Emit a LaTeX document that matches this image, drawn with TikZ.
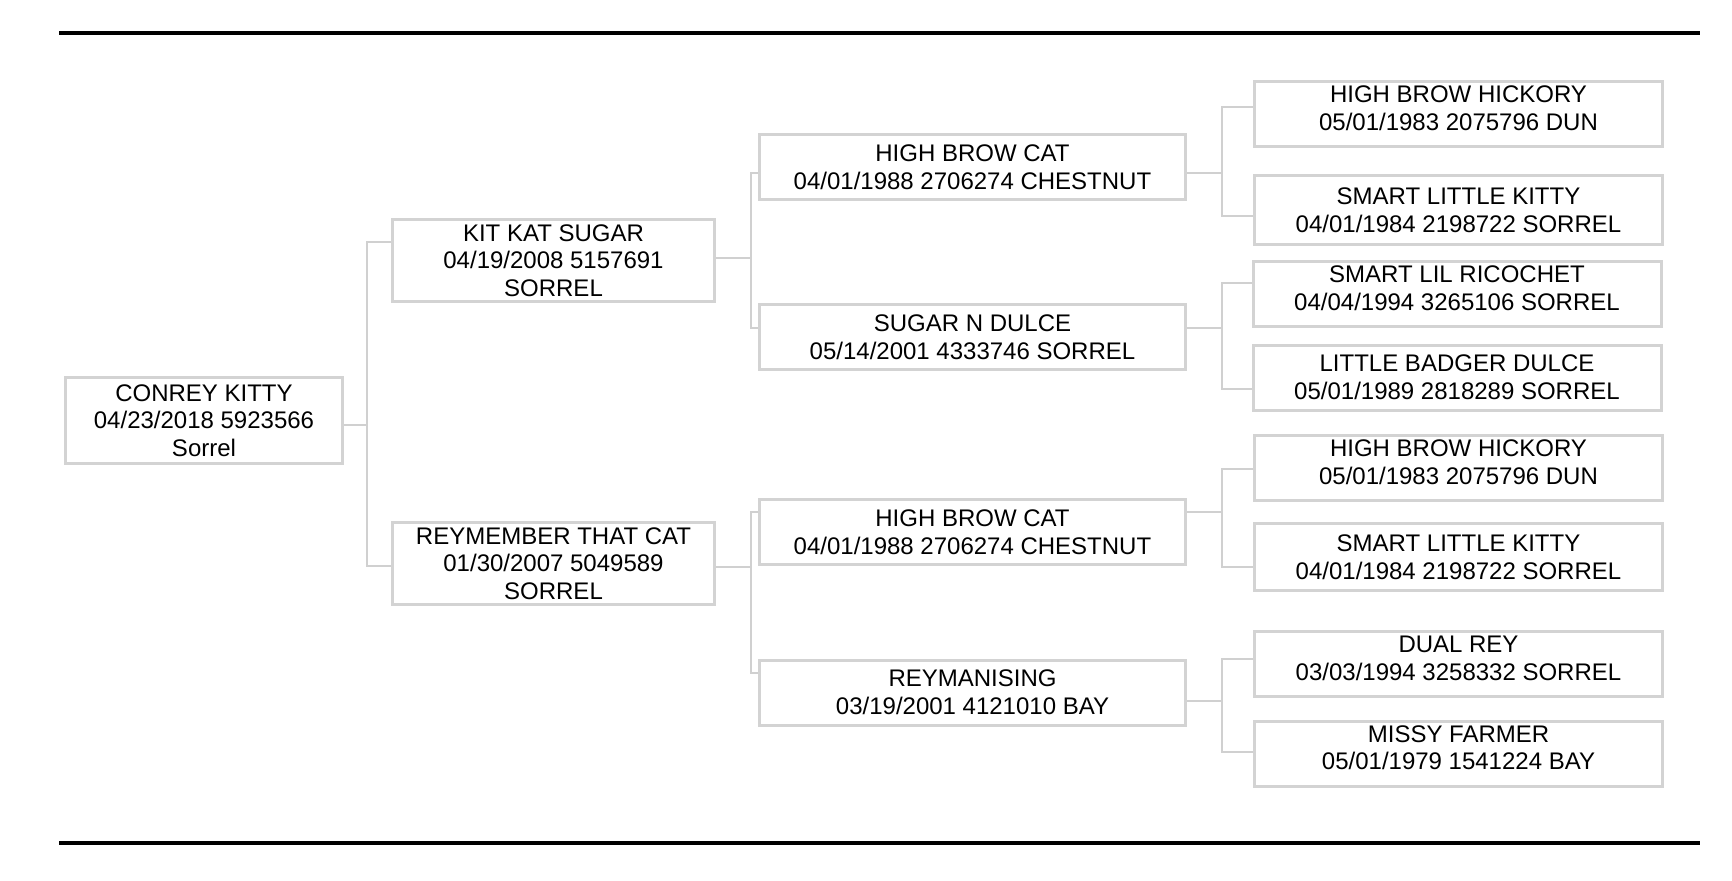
\documentclass[tikz,border=0pt]{standalone}
\usepackage{fontspec}
\setmainfont{Liberation Sans}
\usepackage{xcolor}
\definecolor{boxgray}{HTML}{D3D3D3}
\definecolor{linkgray}{HTML}{D0D0D0}

\begin{document}
\begin{tikzpicture}[x=0.5pt,y=-0.5pt,
  horse/.style={rectangle,draw=boxgray,line width=1.5pt,align=center,
                inner sep=0pt,font=\fontsize{12}{13.85}\selectfont},
  gen zero/.style={horse,minimum width=138.5pt,minimum height=43pt},
  gen one/.style={horse,minimum width=161pt,minimum height=41pt},
  gen two/.style={horse,minimum width=213pt,minimum height=32.5pt},
  gen three/.style={horse,minimum width=204pt,minimum height=32.5pt},
  raised/.style={execute at end node={\rule[-6pt]{0pt}{0pt}}},
  link/.style={draw=linkgray,line width=0.75pt},
  rule/.style={draw=black,line width=1.7pt}]

  \useasboundingbox (0,0) rectangle (1732,880);

  \draw[rule] (59,33) -- (1700,33);
  \draw[rule] (59,843) -- (1700,843);

  \node[gen zero] (ck) at (204,420.5) {CONREY KITTY\\04/23/2018 5923566\\Sorrel};

  \node[gen one] (kks) at (553.5,260.5) {KIT KAT SUGAR\\04/19/2008 5157691\\SORREL};
  \node[gen one] (rtc) at (553.5,563.5) {REYMEMBER THAT CAT\\01/30/2007 5049589\\SORREL};

  \node[gen two] (hbcA) at (972.5,167)   {HIGH BROW CAT\\04/01/1988 2706274 CHESTNUT};
  \node[gen two] (snd)  at (972.5,337)   {SUGAR N DULCE\\05/14/2001 4333746 SORREL};
  \node[gen two] (hbcB) at (972.5,532)   {HIGH BROW CAT\\04/01/1988 2706274 CHESTNUT};
  \node[gen two] (rey)  at (972.5,692.5) {REYMANISING\\03/19/2001 4121010 BAY};

  \node[gen three,raised] (hbhA) at (1458.5,114) {HIGH BROW HICKORY\\05/01/1983 2075796 DUN};
  \node[gen three,minimum height=34.5pt] (slkA) at (1458.5,210) {SMART LITTLE KITTY\\04/01/1984 2198722 SORREL};
  \node[gen three,raised] (slr)  at (1457,294)     {SMART LIL RICOCHET\\04/04/1994 3265106 SORREL};
  \node[gen three] (lbd)  at (1457,377.5)   {LITTLE BADGER DULCE\\05/01/1989 2818289 SORREL};
  \node[gen three,raised] (hbhB) at (1458.5,468) {HIGH BROW HICKORY\\05/01/1983 2075796 DUN};
  \node[gen three,minimum height=33.5pt] (slkB) at (1458.5,557) {SMART LITTLE KITTY\\04/01/1984 2198722 SORREL};
  \node[gen three,raised] (dual) at (1458.5,664) {DUAL REY\\03/03/1994 3258332 SORREL};
  \node[gen three,raised] (missy) at (1458.5,753.5) {MISSY FARMER\\05/01/1979 1541224 BAY};

  % foal to sire and dam
  \draw[link] ([yshift=-2.25pt]ck.east) -- ++(23,0) |- ([yshift=9.25pt]kks.west);
  \draw[link] ([yshift=-2.25pt]ck.east) -- ++(23,0) |- ([yshift=-1.25pt]rtc.west);

  % parents to grandparents
  \draw[link] ([yshift=1.25pt]kks.east) -- ++(35,0) |- ([yshift=-3pt]hbcA.west);
  \draw[link] ([yshift=1.25pt]kks.east) -- ++(35,0) |- ([yshift=4.5pt]snd.west);

  \draw[link] ([yshift=-1.75pt]rtc.east) -- ++(35,0) |- ([yshift=10pt]hbcB.west);
  \draw[link] ([yshift=-1.75pt]rtc.east) -- ++(35,0) |- ([yshift=9.75pt]rey.west);

  % grandparents to great-grandparents
  \draw[link] ([yshift=-3pt]hbcA.east) -- ++(35,0) |- ([yshift=3.5pt]hbhA.west);
  \draw[link] ([yshift=-3pt]hbcA.east) -- ++(35,0) |- ([yshift=-3pt]slkA.west);

  \draw[link] ([yshift=4.5pt]snd.east) -- ++(35,0) |- ([yshift=5.5pt]slr.west);
  \draw[link] ([yshift=4.5pt]snd.east) -- ++(35,0) |- ([yshift=-5.75pt]lbd.west);

  \draw[link] ([yshift=10pt]hbcB.east) -- ++(35,0) |- ([yshift=-0.5pt]hbhB.west);
  \draw[link] ([yshift=10pt]hbcB.east) -- ++(35,0) |- ([yshift=-5pt]slkB.west);

  \draw[link] ([yshift=-4.25pt]rey.east) -- ++(35,0) |- ([yshift=2.5pt]dual.west);
  \draw[link] ([yshift=-4.25pt]rey.east) -- ++(35,0) |- ([yshift=0.75pt]missy.west);

\end{tikzpicture}
\end{document}
